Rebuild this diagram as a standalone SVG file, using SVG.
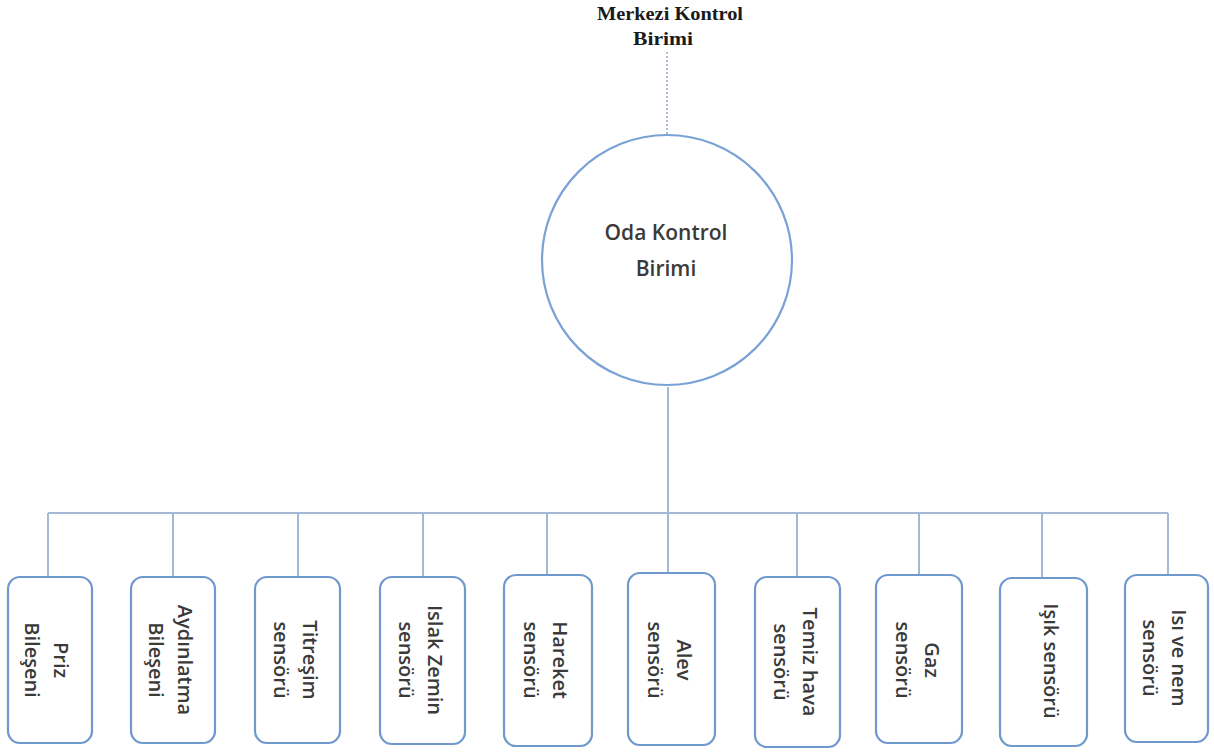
<svg xmlns="http://www.w3.org/2000/svg" width="1214" height="753" viewBox="0 0 1214 753">
<style>
.conn{stroke:#a3b9d6;stroke-width:2;fill:none}
.dot{stroke:#aebfd8;stroke-width:2;fill:none;stroke-dasharray:2 2}
.box{fill:#ffffff;stroke:#6f98cc;stroke-width:2.2}
.circ{fill:#ffffff;stroke:#7aa2d6;stroke-width:2.2}
.lbl{font-family:"Open Sans","Noto Sans",sans-serif;font-size:20px;font-weight:600;fill:#3a3a3a;text-anchor:middle}
.top{font-family:"Liberation Serif","Times New Roman",serif;font-weight:bold;font-size:19px;fill:#1a1a1a;text-anchor:middle}
</style>
<rect width="1214" height="753" fill="#ffffff"/>
<g id="connectors">
<line class="dot" x1="667" y1="52" x2="667" y2="134"/>
<line class="conn" x1="668" y1="387" x2="668" y2="513"/>
<line class="conn" x1="48" y1="513" x2="1168" y2="513"/>
<line class="conn" x1="48" y1="513" x2="48" y2="577"/>
<line class="conn" x1="173" y1="513" x2="173" y2="577"/>
<line class="conn" x1="298" y1="513" x2="298" y2="577"/>
<line class="conn" x1="423" y1="513" x2="423" y2="577"/>
<line class="conn" x1="547" y1="513" x2="547" y2="575"/>
<line class="conn" x1="668" y1="513" x2="668" y2="573"/>
<line class="conn" x1="797" y1="513" x2="797" y2="577"/>
<line class="conn" x1="919" y1="513" x2="919" y2="575"/>
<line class="conn" x1="1042" y1="513" x2="1042" y2="578"/>
<line class="conn" x1="1168" y1="513" x2="1168" y2="575"/>
</g>
<g id="merkezi">
<text class="top" x="670" y="20" textLength="146" lengthAdjust="spacingAndGlyphs">Merkezi Kontrol</text>
<text class="top" x="663" y="45" textLength="60" lengthAdjust="spacingAndGlyphs">Birimi</text>
</g>
<g id="oda">
<circle class="circ" cx="667" cy="260" r="125"/>
<text class="lbl" x="666" y="240" style="font-size:21px">Oda Kontrol</text>
<text class="lbl" x="666" y="276" style="font-size:21px">Birimi</text>
</g>
<g id="priz">
<rect class="box" x="8" y="577" width="84" height="166" rx="12"/>
<g transform="translate(47,660) rotate(90)"><text class="lbl" x="0" y="-7">Priz</text><text class="lbl" x="0" y="22">Bileşeni</text></g>
</g>
<g id="aydinlatma">
<rect class="box" x="131" y="577" width="84" height="166" rx="12"/>
<g transform="translate(171,660) rotate(90)"><text class="lbl" x="0" y="-7">Aydınlatma</text><text class="lbl" x="0" y="22">Bileşeni</text></g>
</g>
<g id="titresim">
<rect class="box" x="255" y="577" width="85" height="166" rx="12"/>
<g transform="translate(296,660) rotate(90)"><text class="lbl" x="0" y="-7">Titreşim</text><text class="lbl" x="0" y="22">sensörü</text></g>
</g>
<g id="islak">
<rect class="box" x="380" y="577" width="85" height="167" rx="12"/>
<g transform="translate(421,660) rotate(90)"><text class="lbl" x="0" y="-7">Islak Zemin</text><text class="lbl" x="0" y="22">sensörü</text></g>
</g>
<g id="hareket">
<rect class="box" x="504" y="575" width="88" height="171" rx="12"/>
<g transform="translate(546,660) rotate(90)"><text class="lbl" x="0" y="-7">Hareket</text><text class="lbl" x="0" y="22">sensörü</text></g>
</g>
<g id="alev">
<rect class="box" x="628" y="573" width="87" height="172" rx="12"/>
<g transform="translate(670,660) rotate(90)"><text class="lbl" x="0" y="-7">Alev</text><text class="lbl" x="0" y="22">sensörü</text></g>
</g>
<g id="temiz">
<rect class="box" x="755" y="577" width="85" height="170" rx="12"/>
<g transform="translate(796,662) rotate(90)"><text class="lbl" x="0" y="-7">Temiz hava</text><text class="lbl" x="0" y="22">sensörü</text></g>
</g>
<g id="gaz">
<rect class="box" x="876" y="575" width="86" height="168" rx="12"/>
<g transform="translate(918,660) rotate(90)"><text class="lbl" x="0" y="-7">Gaz</text><text class="lbl" x="0" y="22">sensörü</text></g>
</g>
<g id="isik">
<rect class="box" x="1000" y="578" width="87" height="168" rx="12"/>
<g transform="translate(1051,661) rotate(90)"><text class="lbl" x="0" y="7">Işık sensörü</text></g>
</g>
<g id="isi">
<rect class="box" x="1125" y="575" width="83" height="167" rx="12"/>
<g transform="translate(1165,658) rotate(90)"><text class="lbl" x="0" y="-7">Isı ve nem</text><text class="lbl" x="0" y="22">sensörü</text></g>
</g>
</svg>
